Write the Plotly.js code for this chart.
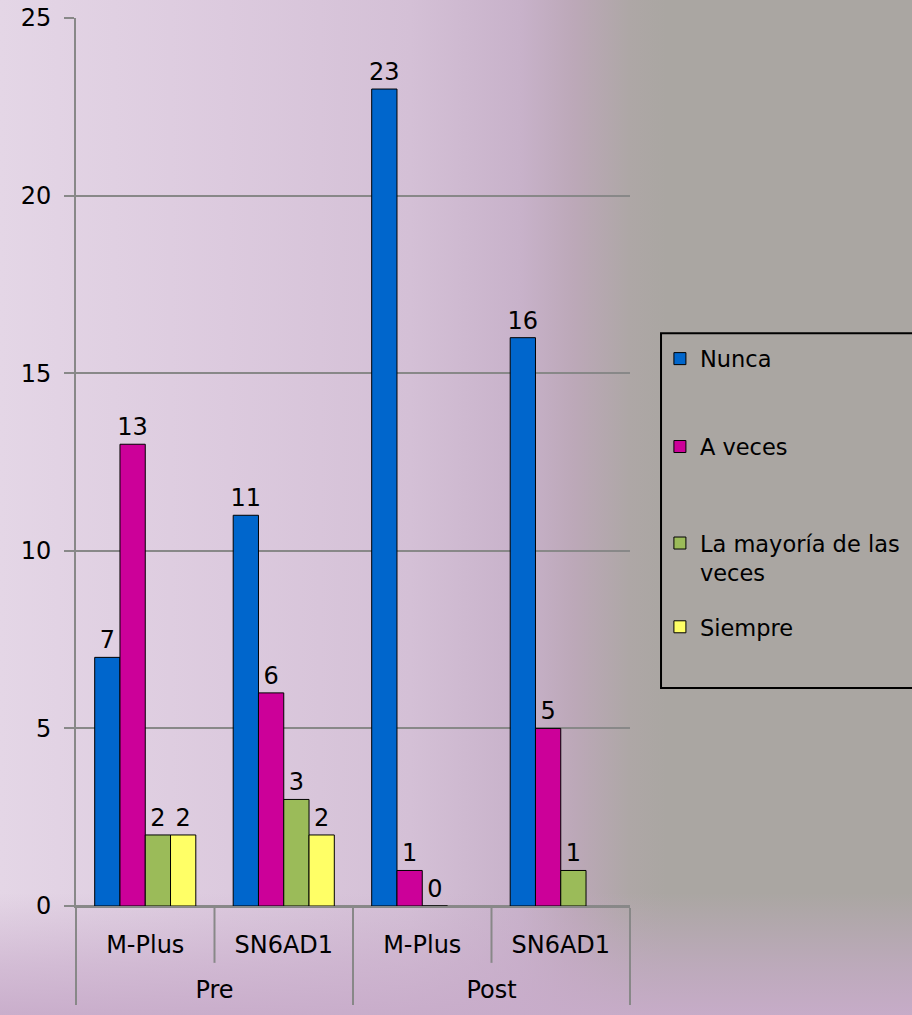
<!DOCTYPE html>
<html>
<head>
<meta charset="utf-8">
<script src="https://cdn.plot.ly/plotly-3.0.1.min.js"></script>
<style>
  html, body { margin: 0; padding: 0; }
  body {
    width: 912px; height: 1015px; overflow: hidden;
    background:
      linear-gradient(to top, rgba(200,172,202,0.95) 0%, rgba(200,172,202,0.6) 5%, rgba(200,172,202,0) 12%),
      linear-gradient(90deg, #e4d6e6 0%, #dccade 25%, #d4c0d6 45%, #c8b2ca 57%, #bca8b8 63%, #aea7a6 69%, #aaa6a2 73%, #aaa6a2 100%);
  }
  #chart { width: 912px; height: 1015px; }
</style>
</head>
<body>
<div id="chart"></div>
<script>
// Data
const phases = ["Pre", "Pre", "Post", "Post"];
const programs = ["M-Plus", "SN6AD1", "M-Plus", "SN6AD1"];
const seriesNames = ["Nunca", "A veces", "La mayoría de las<br>veces", "Siempre"];
const nunca = [7, 11, 23, 16];
const aVeces = [13, 6, 1, 5];
const laMayoria = [2, 3, 0, 1];
const siempre = [2, 2, null, null];
const colors = ["#0066cc", "#cc0099", "#9bbb59", "#ffff66"];

const allSeries = [nunca, aVeces, laMayoria, siempre];
const fontFam = "DejaVu Sans, Verdana, sans-serif";
const FS = 24;
const LFS = 22.5;

// outer level labels pushed one line lower
const outerLabels = phases.map(p => "<br>" + p);

const legendNames = ["legend", "legend2", "legend3", "legend4"];

const traces = allSeries.map((vals, i) => ({
  type: "bar",
  name: seriesNames[i],
  legend: legendNames[i],
  x: [outerLabels, programs],
  y: vals,
  text: vals.map(v => (v === null ? "" : String(v))),
  textposition: "outside",
  constraintext: "none",
  cliponaxis: false,
  textfont: { family: fontFam, size: FS, color: "#000" },
  marker: { color: colors[i], line: { color: "#000", width: 1 } },
  hoverinfo: "skip"
}));

function legendAt(yMid, valign) {
  return {
    x: 1.054, xanchor: "left",
    y: yMid, yanchor: "middle",
    bgcolor: "rgba(0,0,0,0)",
    borderwidth: 0,
    valign: valign || "middle",
    font: { family: fontFam, size: LFS, color: "#000" }
  };
}

const layout = {
  width: 912,
  height: 1015,
  margin: { l: 76, r: 282, t: 18, b: 109, autoexpand: false },
  paper_bgcolor: "rgba(0,0,0,0)",
  plot_bgcolor: "rgba(0,0,0,0)",
  barmode: "group",
  bargap: 0.27,
  bargroupgap: 0,
  font: { family: fontFam, size: FS, color: "#000" },
  showlegend: true,
  legend: legendAt(0.616),
  legend2: legendAt(0.517),
  legend3: legendAt(0.392, "top"),
  legend4: legendAt(0.314),
  xaxis: {
    type: "multicategory",
    showgrid: false,
    showline: true,
    linecolor: "#888",
    linewidth: 2,
    ticks: "",
    showdividers: true,
    dividercolor: "#888",
    dividerwidth: 2,
    ticklabelstandoff: 16,
    tickfont: { family: fontFam, size: FS, color: "#000" }
  },
  yaxis: {
    range: [0, 25],
    dtick: 5,
    showgrid: true,
    gridcolor: "#888",
    gridwidth: 2,
    zeroline: true,
    zerolinecolor: "#888",
    zerolinewidth: 2,
    showline: true,
    linecolor: "#888",
    linewidth: 2,
    ticks: "outside",
    ticklen: 10,
    tickwidth: 2,
    tickcolor: "#888",
    ticklabelstandoff: 8,
    tickfont: { family: fontFam, size: FS, color: "#000" }
  },
  shapes: [
    { type: "line", xref: "paper", yref: "paper", x0: 0.25, x1: 0.25, y0: 0, y1: -0.064, line: { color: "#888", width: 2 } },
    { type: "line", xref: "paper", yref: "paper", x0: 0.75, x1: 0.75, y0: 0, y1: -0.064, line: { color: "#888", width: 2 } },
    { type: "rect", xref: "paper", yref: "paper", x0: 1.056, x1: 1.53, y0: 0.2455, y1: 0.645,
      fillcolor: "#aaa6a2", line: { color: "#000", width: 2 }, layer: "below" }
  ]
};

Plotly.newPlot("chart", traces, layout, { displayModeBar: false, staticPlot: true });
</script>
</body>
</html>
